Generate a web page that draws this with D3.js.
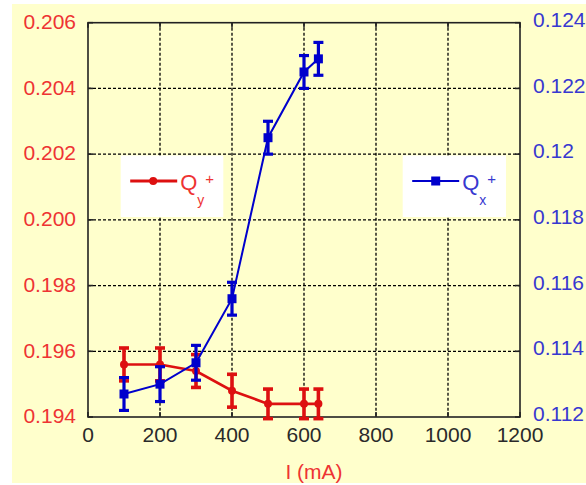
<!DOCTYPE html>
<html>
<head>
<meta charset="utf-8">
<script src="https://cdn.jsdelivr.net/npm/d3@7"></script>
<style>
    body { margin: 0; background: #ffffff; }
    svg { display: block; font-family: 'Liberation Sans', Arial, sans-serif; }
</style>
</head>
<body>
<svg id="chart" width="586" height="485"></svg>
<script>
// current in mA
const current = [100, 200, 300, 400, 500, 600, 640];

// Qy+ (left axis)
const qy = [0.1956, 0.1956, 0.1954, 0.1948, 0.1944, 0.1944, 0.1944];
const qyErr = [0.0005, 0.0005, 0.0005, 0.0005, 0.00045, 0.00045, 0.00045];

// Qx+ (right axis)
const qx = [0.1127, 0.1130, 0.11365, 0.1156, 0.1205, 0.1225, 0.1229];
const qxErr = [0.0005, 0.00053, 0.00053, 0.0005, 0.0005, 0.0005, 0.0005];

const xTicks = [0, 200, 400, 600, 800, 1000, 1200];
const yLeftTicks = [0.194, 0.196, 0.198, 0.200, 0.202, 0.204, 0.206];
const yRightTicks = [0.112, 0.114, 0.116, 0.118, 0.12, 0.122, 0.124];

const params = {
    padding: { top: 22.7, right: 66, bottom: 68, left: 88 },
    fontSize: 21,
    red: '#dd1010',
    redText: '#ee3333',
    blue: '#0000cc',
    blueText: '#3838d0',
    bg: '#ffffcc'
};

const svg = d3.select('#chart');
const width = +svg.attr('width');
const height = +svg.attr('height');
const p = params.padding;

svg.append('rect')
    .attr('x', 12).attr('y', 4)
    .attr('width', width - 12).attr('height', 479)
    .attr('fill', params.bg);

const x = d3.scaleLinear().domain([0, 1200]).range([p.left, width - p.right]);
const yL = d3.scaleLinear().domain([0.194, 0.206]).range([height - p.bottom, p.top]);
const yR = d3.scaleLinear().domain([0.112, 0.124]).range([height - p.bottom, p.top]);

// grid
const grid = svg.append('g')
    .attr('stroke', '#000')
    .attr('stroke-width', 1.3)
    .attr('stroke-dasharray', '3,2');

grid.selectAll('line.v')
    .data(xTicks.slice(1, -1))
    .enter().append('line')
    .attr('x1', d => x(d)).attr('x2', d => x(d))
    .attr('y1', p.top).attr('y2', height - p.bottom);

grid.selectAll('line.h')
    .data(yLeftTicks.slice(1, -1))
    .enter().append('line')
    .attr('y1', d => yL(d)).attr('y2', d => yL(d))
    .attr('x1', p.left).attr('x2', width - p.right);

// legend boxes (drawn over the grid)
const legends = [
    { x: 120.7, w: 102.6, color: params.red, text: params.redText, sub: 'y', marker: 'circle' },
    { x: 402.7, w: 103.3, color: params.blue, text: params.blueText, sub: 'x', marker: 'square' }
];

legends.forEach(l => {
    const g = svg.append('g');
    g.append('rect')
        .attr('x', l.x).attr('y', 155.5)
        .attr('width', l.w).attr('height', 61.5)
        .attr('fill', '#ffffff');
    const lx = l.x + 9.5;
    g.append('line')
        .attr('x1', lx).attr('x2', lx + 47)
        .attr('y1', 181).attr('y2', 181)
        .attr('stroke', l.color).attr('stroke-width', l.marker === 'circle' ? 2.8 : 2.2);
    if (l.marker === 'circle') {
        g.append('circle')
            .attr('cx', lx + 23).attr('cy', 181).attr('r', 4)
            .attr('fill', l.color);
    } else {
        g.append('rect')
            .attr('x', lx + 19).attr('y', 176.5)
            .attr('width', 9).attr('height', 9)
            .attr('fill', l.color);
    }
    g.append('text')
        .attr('x', lx + 50).attr('y', 190)
        .attr('font-size', 22)
        .attr('fill', l.text)
        .text('Q');
    g.append('text')
        .attr('x', lx + 67).attr('y', 205)
        .attr('font-size', 14)
        .attr('fill', l.text)
        .text(l.sub);
    g.append('text')
        .attr('x', lx + 75).attr('y', 184)
        .attr('font-size', 15)
        .attr('fill', l.text)
        .text('+');
});

// frame
svg.append('rect')
    .attr('x', p.left).attr('y', p.top)
    .attr('width', width - p.right - p.left)
    .attr('height', height - p.bottom - p.top)
    .attr('fill', 'none')
    .attr('stroke', '#222')
    .attr('stroke-width', 1.6);

// inward ticks
const ticks = svg.append('g').attr('stroke', '#222').attr('stroke-width', 1.6);
ticks.selectAll('line.xt')
    .data(xTicks)
    .enter().append('line')
    .attr('x1', d => x(d)).attr('x2', d => x(d))
    .attr('y1', height - p.bottom).attr('y2', height - p.bottom - 5);
ticks.selectAll('line.xt2')
    .data(xTicks)
    .enter().append('line')
    .attr('x1', d => x(d)).attr('x2', d => x(d))
    .attr('y1', p.top).attr('y2', p.top + 5);
ticks.selectAll('line.yl')
    .data(yLeftTicks)
    .enter().append('line')
    .attr('y1', d => yL(d)).attr('y2', d => yL(d))
    .attr('x1', p.left).attr('x2', p.left + 5);
ticks.selectAll('line.yr')
    .data(yRightTicks)
    .enter().append('line')
    .attr('y1', d => yR(d)).attr('y2', d => yR(d))
    .attr('x1', width - p.right).attr('x2', width - p.right - 5);

// tick labels
svg.append('g').selectAll('text')
    .data(xTicks)
    .enter().append('text')
    .attr('x', d => x(d))
    .attr('y', 442)
    .attr('text-anchor', 'middle')
    .attr('font-size', params.fontSize)
    .attr('fill', '#2a2a2a')
    .text(d => d);

svg.append('g').selectAll('text')
    .data(yLeftTicks)
    .enter().append('text')
    .attr('x', 76)
    .attr('y', d => yL(d))
    .attr('dy', '0.3em')
    .attr('text-anchor', 'end')
    .attr('font-size', params.fontSize)
    .attr('fill', params.redText)
    .text(d => d3.format('.3f')(d));

svg.append('g').selectAll('text')
    .data(yRightTicks)
    .enter().append('text')
    .attr('x', 533)
    .attr('y', d => yR(d))
    .attr('dy', '0.2em')
    .attr('text-anchor', 'start')
    .attr('font-size', params.fontSize)
    .attr('fill', params.blueText)
    .text(d => d3.format('~g')(d));

svg.append('text')
    .attr('x', 314)
    .attr('y', 479)
    .attr('text-anchor', 'middle')
    .attr('font-size', params.fontSize)
    .attr('fill', params.redText)
    .text('I (mA)');

// series
function drawSeries(values, errors, yScale, color, marker) {
    const pts = current.map((c, i) => ({ c, v: values[i], e: errors[i] }));
    const g = svg.append('g');
    const thick = marker === 'circle';

    g.append('path')
        .datum(pts)
        .attr('fill', 'none')
        .attr('stroke', color)
        .attr('stroke-width', thick ? 2.6 : 2)
        .attr('d', d3.line().x(d => x(d.c)).y(d => yScale(d.v)));

    const bars = g.selectAll('g.err')
        .data(pts)
        .enter().append('g')
        .attr('stroke', color)
        .attr('stroke-width', thick ? 3.6 : 3.2);
    bars.append('line')
        .attr('x1', d => x(d.c)).attr('x2', d => x(d.c))
        .attr('y1', d => yScale(d.v - d.e)).attr('y2', d => yScale(d.v + d.e));
    bars.append('line')
        .attr('x1', d => x(d.c) - 5).attr('x2', d => x(d.c) + 5)
        .attr('y1', d => yScale(d.v - d.e)).attr('y2', d => yScale(d.v - d.e));
    bars.append('line')
        .attr('x1', d => x(d.c) - 5).attr('x2', d => x(d.c) + 5)
        .attr('y1', d => yScale(d.v + d.e)).attr('y2', d => yScale(d.v + d.e));

    if (marker === 'circle') {
        g.selectAll('circle')
            .data(pts)
            .enter().append('circle')
            .attr('cx', d => x(d.c)).attr('cy', d => yScale(d.v))
            .attr('r', 4)
            .attr('fill', color);
    } else {
        g.selectAll('rect')
            .data(pts)
            .enter().append('rect')
            .attr('x', d => x(d.c) - 4.5).attr('y', d => yScale(d.v) - 4.5)
            .attr('width', 9).attr('height', 9)
            .attr('fill', color);
    }
}

drawSeries(qy, qyErr, yL, params.red, 'circle');
drawSeries(qx, qxErr, yR, params.blue, 'square');
</script>
</body>
</html>
